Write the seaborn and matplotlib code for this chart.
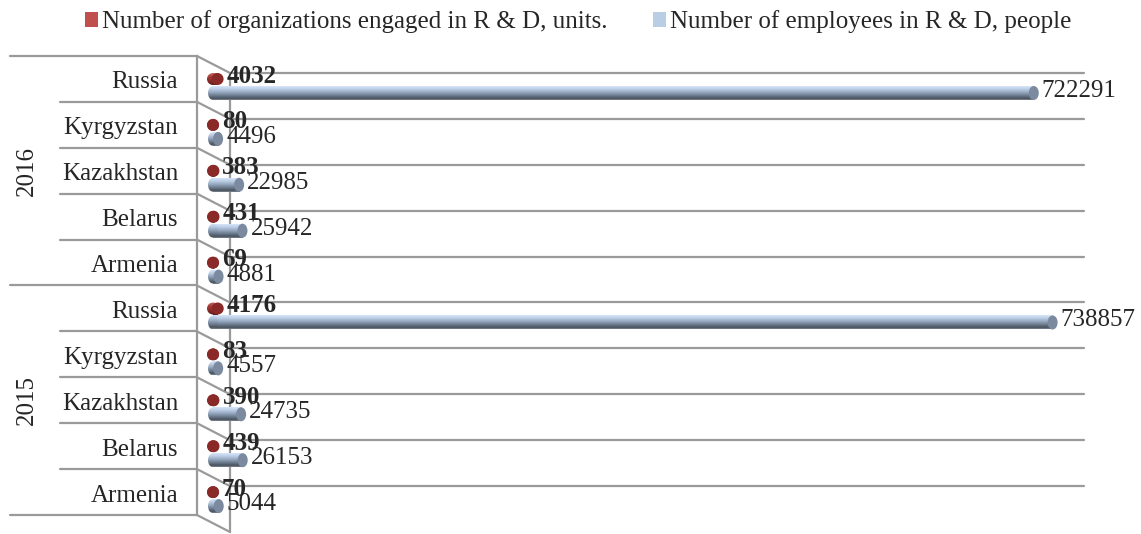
import numpy as np
import pandas as pd
import matplotlib
matplotlib.use("Agg")
import matplotlib.pyplot as plt
import seaborn as sns
from matplotlib import transforms
from matplotlib.patches import Ellipse, Patch
from matplotlib.lines import Line2D
from matplotlib.colors import LinearSegmentedColormap

# ---- data -------------------------------------------------------------
years = ["2016", "2015"]
countries = ["Russia", "Kyrgyzstan", "Kazakhstan", "Belarus", "Armenia"]
organizations = [4032, 80, 383, 431, 69, 4176, 83, 390, 439, 70]
employees = [722291, 4496, 22985, 25942, 4881, 738857, 4557, 24735, 26153, 5044]
series_names = ["Number of organizations engaged in R & D, units.",
                "Number of employees in R & D, people"]

rows = [f"{y} {c}" for y in years for c in countries]
df = pd.DataFrame({
    "row": rows * 2,
    "series": [series_names[0]] * len(rows) + [series_names[1]] * len(rows),
    "value": organizations + employees,
})

# ---- style ------------------------------------------------------------
sns.set_style("white")
plt.rcParams["font.family"] = ["Liberation Serif", "DejaVu Serif"]
FS = 18
line_color = "#9A9A9A"
line_w = 1.6
legend_colors = ["#C0504D", "#B9CDE5"]

W, H = 1141, 534
fig = plt.figure(figsize=(W / 100, H / 100), dpi=100)
fig.patch.set_facecolor("white")

# plot box (pixels): category table edge on the left, wall to the right
L, R, T, B = 197, 1084, 56, 515
ax = fig.add_axes([L / W, (H - B) / H, (R - L) / W, (B - T) / H])

sns.barplot(data=df, x="value", y="row", hue="series", order=rows,
            hue_order=series_names, palette=legend_colors, orient="h",
            width=0.61, dodge=True, saturation=1, legend=False, ax=ax)

# ---- scales -----------------------------------------------------------
n_rows = len(rows)
row_px = (B - T) / n_rows
shift = 0.5 - 30 / row_px
ytop, ybot = -0.5 + shift, n_rows - 0.5 + shift
units_per_px = 880
zero_px = 213
xlim = (-(zero_px - L) * units_per_px, (R - zero_px) * units_per_px)

# ---- cylinder look for the bars ---------------------------------------
blue_cmap = LinearSegmentedColormap.from_list(
    "blue_cyl", [(0, "#D6E5F8"), (0.2, "#BDD0E7"), (0.45, "#96A8BF"),
                 (0.7, "#69788B"), (0.9, "#48515C"), (1, "#7E8893")])
red_cmap = LinearSegmentedColormap.from_list(
    "red_cyl", [(0, "#C46A66"), (0.35, "#A23A37"), (0.75, "#7E2624"), (1, "#5E1B1A")])
grad = np.linspace(0, 1, 64).reshape(-1, 1)

styles = [
    dict(cmap=red_cmap, cap="#8A2A28", thick=12, cap_px=12, dy=3, weight="bold"),
    dict(cmap=blue_cmap, cap="#7B8A9E", thick=14, cap_px=10, dy=2, weight="normal"),
]

for container, st in zip(ax.containers, styles):
    cap_w = st["cap_px"] * units_per_px
    for bar in container:
        yc = bar.get_y() + bar.get_height() / 2
        h = st["thick"] / row_px
        bar.set_y(yc - h / 2)
        bar.set_height(h)
        bar.set_facecolor("none")
        bar.set_edgecolor("none")
        x0 = bar.get_x()
        x1 = x0 + bar.get_width()
        left_end = Ellipse((x0, yc), cap_w, h, facecolor="none", edgecolor="none")
        ax.add_patch(left_end)
        for clip, ext in [(bar, (x0, x1, yc + h / 2, yc - h / 2)),
                          (left_end, (x0 - cap_w / 2, x0 + cap_w / 2, yc + h / 2, yc - h / 2))]:
            im = ax.imshow(grad, cmap=st["cmap"], extent=ext, aspect="auto",
                           origin="upper", zorder=2, interpolation="bilinear")
            im.set_clip_path(clip)
        ax.add_patch(Ellipse((x1, yc), cap_w, h, facecolor=st["cap"],
                             edgecolor="none", zorder=2.5))

# ---- value labels -----------------------------------------------------
for container, vals, st in zip(ax.containers, [organizations, employees], styles):
    for bar, v in zip(container, vals):
        yc = bar.get_y() + bar.get_height() / 2
        ax.annotate(f"{v}", xy=(v, yc), xytext=(st["cap_px"] / 2 + 3, st["dy"]),
                    textcoords="offset pixels", ha="left", va="center",
                    fontsize=FS, fontweight=st["weight"], zorder=4,
                    annotation_clip=False)

# ---- axes, table lines and 3D floor -------------------------------------
ax.set_xlim(*xlim)
ax.set_ylim(ybot, ytop)
ax.set_xticks([])
ax.set_xlabel("")
ax.set_ylabel("")
ax.set_yticks(range(n_rows))
ax.set_yticklabels(countries * len(years), fontsize=FS)
ax.tick_params(axis="y", length=0, pad=19 * 0.72)
lift = transforms.ScaledTranslation(0, 6 / 100, fig.dpi_scale_trans)
for lab in ax.get_yticklabels():
    lab.set_transform(lab.get_transform() + lift)

for s in ["top", "right", "bottom"]:
    ax.spines[s].set_visible(False)
ax.spines["left"].set_color(line_color)
ax.spines["left"].set_linewidth(line_w)

bt = transforms.blended_transform_factory(ax.transAxes, ax.transData)
depth_x = 33 / (R - L)
depth_y = 17 / row_px
for k in range(n_rows + 1):
    v = ytop + k
    start_px = 10 if k % 5 == 0 else 60
    ax.add_line(Line2D([(start_px - L) / (R - L), 0], [v, v], transform=bt,
                       color=line_color, lw=line_w, clip_on=False))
    ax.add_line(Line2D([0, depth_x], [v, v + depth_y], transform=bt,
                       color=line_color, lw=line_w, clip_on=False))
    if k < n_rows:
        ax.add_line(Line2D([depth_x, 1], [v + depth_y] * 2, transform=bt,
                           color=line_color, lw=line_w, clip_on=False, zorder=1))
ax.add_line(Line2D([depth_x, depth_x], [ytop + depth_y, ybot + depth_y],
                   transform=bt, color=line_color, lw=line_w, clip_on=False, zorder=1))

for i, yr in enumerate(years):
    ax.text((27 - L) / (R - L), ytop + 5 * i + 2.5, yr, transform=bt,
            rotation=90, ha="center", va="center", fontsize=FS)

# ---- legend -----------------------------------------------------------
handles = [Patch(facecolor=c, edgecolor="none") for c in legend_colors]
fig.legend(handles=handles, labels=series_names, loc="center left",
           bbox_to_anchor=(85 / W, 1 - 22 / H), ncol=2, frameon=False,
           fontsize=FS, handlelength=0.5, handleheight=0.5, handletextpad=0.2,
           columnspacing=1.8, borderpad=0, borderaxespad=0)

fig.savefig("out.png", dpi=100)
